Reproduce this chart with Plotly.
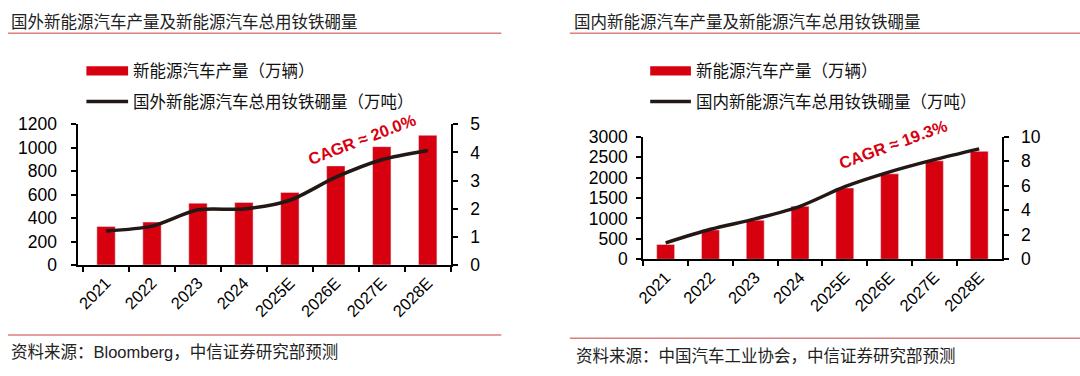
import plotly.graph_objects as go

# ---- data ----
years = ["2021", "2022", "2023", "2024", "2025E", "2026E", "2027E", "2028E"]
overseas_ev_output = [328, 366, 527, 533, 619, 845, 1009, 1106]          # 万辆
overseas_ndfeb = [1.21, 1.38, 1.96, 1.99, 2.30, 3.12, 3.74, 4.07]        # 万吨
domestic_ev_output = [362, 719, 958, 1299, 1747, 2095, 2413, 2645]       # 万辆
domestic_ndfeb = [1.34, 2.45, 3.30, 4.33, 5.93, 7.14, 8.14, 9.02]        # 万吨

title_left = "国外新能源汽车产量及新能源汽车总用钕铁硼量"
title_right = "国内新能源汽车产量及新能源汽车总用钕铁硼量"
legend_bar = "新能源汽车产量（万辆）"
legend_line_left = "国外新能源汽车总用钕铁硼量（万吨）"
legend_line_right = "国内新能源汽车总用钕铁硼量（万吨）"
cagr_left = "CAGR ≈ 20.0%"
cagr_right = "CAGR ≈ 19.3%"
source_left = "资料来源：Bloomberg，中信证券研究部预测"
source_right = "资料来源：中国汽车工业协会，中信证券研究部预测"

W, H = 1080, 376
RED = "#d7000f"
DARK = "#231815"
RULE = "#dc7f80"
FONT = "Liberation Sans, Noto Sans CJK SC, Arial, sans-serif"


def px(x):
    return x / W


def py(y):
    return 1 - y / H


fig = go.Figure()

fig.add_trace(go.Bar(x=years, y=overseas_ev_output, marker_color=RED, width=0.4,
                     xaxis="x", yaxis="y", showlegend=False))
fig.add_trace(go.Scatter(x=years, y=overseas_ndfeb, mode="lines",
                         line=dict(color=DARK, width=3.5, shape="spline", smoothing=0.8),
                         xaxis="x", yaxis="y2", showlegend=False))
fig.add_trace(go.Bar(x=years, y=domestic_ev_output, marker_color=RED, width=0.4,
                     xaxis="x2", yaxis="y3", showlegend=False))
fig.add_trace(go.Scatter(x=years, y=domestic_ndfeb, mode="lines",
                         line=dict(color=DARK, width=3.5, shape="spline", smoothing=0.8),
                         xaxis="x2", yaxis="y4", showlegend=False))

axis_common = dict(showgrid=False, zeroline=False, showline=True, linecolor="black",
                   linewidth=2, ticks="outside", ticklen=5, tickwidth=1.5, tickcolor="black")

xcommon = dict(axis_common, type="category", tickson="boundaries", tickangle=-45,
               tickfont=dict(family=FONT, size=16.5, color="black"), range=[-0.6, 7.5])

fig.update_layout(
    width=W, height=H, autosize=False,
    margin=dict(l=0, r=0, t=0, b=0),
    paper_bgcolor="white", plot_bgcolor="white",
    xaxis=dict(xcommon, domain=[px(71), px(446)], anchor="y"),
    yaxis=dict(axis_common, domain=[py(269.3), py(120.7)], range=[0, 1200], dtick=200,
               anchor="x", tickfont=dict(family=FONT, size=17.5, color="black"),
               ticklabelstandoff=11),
    yaxis2=dict(axis_common, domain=[py(269.3), py(120.7)], range=[0, 5], dtick=1,
                overlaying="y", side="right", anchor="x",
                tickfont=dict(family=FONT, size=17.5, color="black"), ticklabelstandoff=9),
    xaxis2=dict(xcommon, domain=[px(640), px(1001)], anchor="y3", range=[-0.5, 7.5]),
    yaxis3=dict(axis_common, domain=[py(263.3), py(134)], range=[0, 3000], dtick=500,
                anchor="x2", tickfont=dict(family=FONT, size=17.5, color="black"),
                ticklabelstandoff=5),
    yaxis4=dict(axis_common, domain=[py(263.3), py(134)], range=[0, 10], dtick=2,
                overlaying="y3", side="right", anchor="x2",
                tickfont=dict(family=FONT, size=17.5, color="black"), ticklabelstandoff=9),
)

shapes = []
annots = []


def text(x, y, s, size=16.5, color="#222", xanchor="left", **kw):
    annots.append(dict(x=px(x), y=py(y), xref="paper", yref="paper", text=s,
                       showarrow=False, xanchor=xanchor, yanchor="middle",
                       font=dict(family=FONT, size=size, color=color), **kw))


def hline(x0, x1, y, color, width):
    shapes.append(dict(type="line", xref="paper", yref="paper", x0=px(x0), x1=px(x1),
                       y0=py(y), y1=py(y), line=dict(color=color, width=width)))


# titles and rules
text(1, 12.7, title_left)
text(568, 12.7, title_right)
hline(0, 497, 24.5, RULE, 1.5)
hline(566, 1080, 24.5, RULE, 1.5)

# legends
for lx0, lx1, tx, ltext in [(79, 121, 124, legend_line_left), (647, 688, 691, legend_line_right)]:
    shapes.append(dict(type="rect", xref="paper", yref="paper", x0=px(lx0), x1=px(lx1),
                       y0=py(69.3), y1=py(59.3), fillcolor=RED, line=dict(width=0)))
    text(tx, 64, legend_bar, color="#111")
    hline(lx0, lx1, 96.7, DARK, 3.5)
    text(tx, 97, ltext, color="#111")

# CAGR labels
annots.append(dict(x=px(357), y=py(136), xref="paper", yref="paper", text="<b>" + cagr_left + "</b>",
                   showarrow=False, textangle=-21, xanchor="center", yanchor="middle",
                   font=dict(family=FONT, size=16.5, color=RED)))
annots.append(dict(x=px(892), y=py(141), xref="paper", yref="paper", text="<b>" + cagr_right + "</b>",
                   showarrow=False, textangle=-20, xanchor="center", yanchor="middle",
                   font=dict(family=FONT, size=16.5, color=RED)))

# sources
hline(0, 497, 343.3, RULE, 1.5)
hline(566, 1080, 346.7, RULE, 1.5)
text(1, 361.7, source_left)
text(570, 365, source_right)

fig.update_layout(shapes=shapes, annotations=annots)

fig.write_html("out.html", config={"displayModeBar": False},
               post_script="document.body.style.margin='0';document.body.style.overflow='hidden';")
